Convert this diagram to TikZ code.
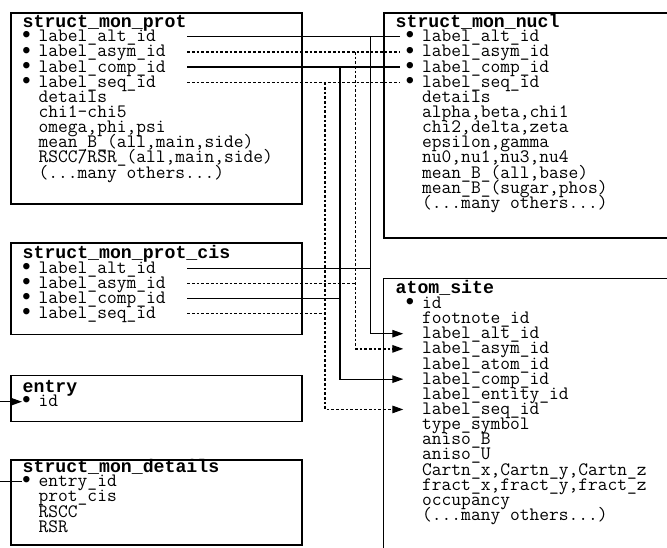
\documentclass[tikz,border=0pt]{standalone}
\usepackage{fontspec}
\usetikzlibrary{arrows.meta}
\newfontfamily\monofont{Liberation Mono}
\newcommand\titlefont{\monofont\bfseries\fontsize{18.2}{18}\selectfont}
\newcommand\fieldfont{\ttfamily\fontsize{18.95}{15}\selectfont}
% key column marker, hung to the left of the field name
\newcommand\keymark{\llap{\raisebox{-1.2pt}{\monofont\scalebox{1.25}{\textbullet}}\hskip5pt}}
% closing line of long tables (kept out of \foreach lists, which parse "...")
\newcommand\manyothers{(...many others...)}
\tikzset{
  tbl/.style={draw, line width=1.5pt, rectangle, inner sep=0pt, anchor=north west},
  ttl/.style={anchor=base west, inner sep=0pt, font=\titlefont},
  fld/.style={anchor=base west, inner sep=0pt, font=\fieldfont},
  link/.style={line width=1.2pt},
  dotlink/.style={line width=1.3pt, dash pattern=on 2.7pt off 2pt},
  tip/.style={-{Triangle[length=11pt,width=7.5pt]}}
}
\begin{document}
\begin{tikzpicture}[x=1pt, y=-1pt]
\useasboundingbox (0,0) rectangle (667,547);
\clip (0,0) rectangle (667,547);

% ---------- table frames ----------
\node[tbl, minimum width=291pt, minimum height=190.7pt] (prot) at (10,12.3) {};
\node[tbl, minimum width=291pt, minimum height=91.7pt] (cis) at (10,242) {};
\node[tbl, minimum width=291pt, minimum height=46pt] (entry) at (10,374.7) {};
\node[tbl, minimum width=291pt, minimum height=85pt] (det) at (10,459) {};
\node[tbl, minimum width=320pt, minimum height=224.7pt] (nucl) at (383.3,12.3) {};
\node[tbl, minimum width=320pt, minimum height=300pt] (atom) at (382.7,277.7) {};

% ---------- struct_mon_prot ----------
\node[ttl] (prot-t) at (22.5,27) {struct\_mon\_prot};
\foreach \t [count=\k] in {{\keymark label\_alt\_id},{\keymark label\_asym\_id},
  {\keymark label\_comp\_id},{\keymark label\_seq\_id},{details},{chi1-chi5},
  {omega,phi,psi},{mean\_B\_(all,main,side)},{RSCC/RSR\_(all,main,side)},
  {\manyothers}}
  \node[fld] (prot-\k) at (38.5, 26.55+15.15*\k) {\t};

% ---------- struct_mon_prot_cis ----------
\node[ttl] (cis-t) at (22.5,258.6) {struct\_mon\_prot\_cis};
\foreach \t [count=\k] in {{\keymark label\_alt\_id},{\keymark label\_asym\_id},
  {\keymark label\_comp\_id},{\keymark label\_seq\_id}}
  \node[fld] (cis-\k) at (38.5, 258.15+15.15*\k) {\t};

% ---------- entry ----------
\node[ttl] (entry-t) at (22.5,392) {entry};
\node[fld] (entry-1) at (38.5,406.7) {\keymark id};

% ---------- struct_mon_details ----------
\node[ttl] (det-t) at (22.5,472) {struct\_mon\_details};
\foreach \t [count=\k] in {{\keymark entry\_id},{prot\_cis},{RSCC},{RSR}}
  \node[fld] (det-\k) at (38.5, 471.55+15.15*\k) {\t};

% ---------- struct_mon_nucl ----------
\node[ttl] (nucl-t) at (395.5,27) {struct\_mon\_nucl};
\foreach \t [count=\k] in {{\keymark label\_alt\_id},{\keymark label\_asym\_id},
  {\keymark label\_comp\_id},{\keymark label\_seq\_id},{details},{alpha,beta,chi1},
  {chi2,delta,zeta},{epsilon,gamma},{nu0,nu1,nu3,nu4},{mean\_B\_(all,base)},
  {mean\_B\_(sugar,phos)},{\manyothers}}
  \node[fld] (nucl-\k) at (422, 26.55+15.15*\k) {\t};

% ---------- atom_site ----------
\node[ttl] (atom-t) at (395.5,293.7) {atom\_site};
\foreach \t [count=\k] in {{\keymark id},{footnote\_id},{label\_alt\_id},
  {label\_asym\_id},{label\_atom\_id},{label\_comp\_id},{label\_entity\_id},
  {label\_seq\_id},{type\_symbol},{aniso\_B},{aniso\_U},
  {Cartn\_x,Cartn\_y,Cartn\_z},{fract\_x,fract\_y,fract\_z},{occupancy},
  {\manyothers}}
  \node[fld] (atom-\k) at (422, 293.25+15.15*\k) {\t};

% ---------- connector end points ----------
\coordinate (p-alt)  at (187.3,36.7);
\coordinate (p-asym) at (187.3,51.85);
\coordinate (p-comp) at (187.3,67);
\coordinate (p-seq)  at (187.3,82.15);
\coordinate (n-alt)  at (400,36.7);
\coordinate (n-asym) at (400,51.85);
\coordinate (n-comp) at (400,67);
\coordinate (n-seq)  at (400,82.15);
\coordinate (c-alt)  at (187.3,268.3);
\coordinate (c-asym) at (187.3,283.45);
\coordinate (c-comp) at (187.3,298.6);
\coordinate (c-seq)  at (187.3,313.75);
\coordinate (j-alt)  at (370.7,36.7);
\coordinate (j-asym) at (355.7,51.85);
\coordinate (j-comp) at (340,67);
\coordinate (j-seq)  at (325,82.15);
\coordinate (a-alt)  at (403.3,333.7);
\coordinate (a-asym) at (403.3,348.85);
\coordinate (a-comp) at (403.3,379.15);
\coordinate (a-seq)  at (403.3,409.45);
\coordinate (e-in)   at (0,401.7);
\coordinate (e-tip)  at (22,401.7);
\coordinate (d-in)   at (0,481.7);
\coordinate (d-end)  at (22,481.7);

% ---------- connectors ----------
\draw[link]    (p-alt)  -- (n-alt);
\draw[dotlink] (p-asym) -- (n-asym);
\draw[link]    (p-comp) -- (n-comp);
\draw[dotlink] (p-seq)  -- (n-seq);

\draw[link, tip]    (j-alt)  |- (a-alt);
\draw[dotlink, tip] (j-asym) |- (a-asym);
\draw[link, tip]    (j-comp) |- (a-comp);
\draw[dotlink, tip] (j-seq)  |- (a-seq);

\draw[link]    (c-alt)  -- (c-alt -| j-alt);
\draw[dotlink] (c-asym) -- (c-asym -| j-asym);
\draw[link]    (c-comp) -- (c-comp -| j-comp);
\draw[dotlink] (c-seq)  -- (c-seq -| j-seq);

\draw[link, tip] (e-in) -- (e-tip);
\draw[link] (d-in) -- (d-end);
\end{tikzpicture}
\end{document}
